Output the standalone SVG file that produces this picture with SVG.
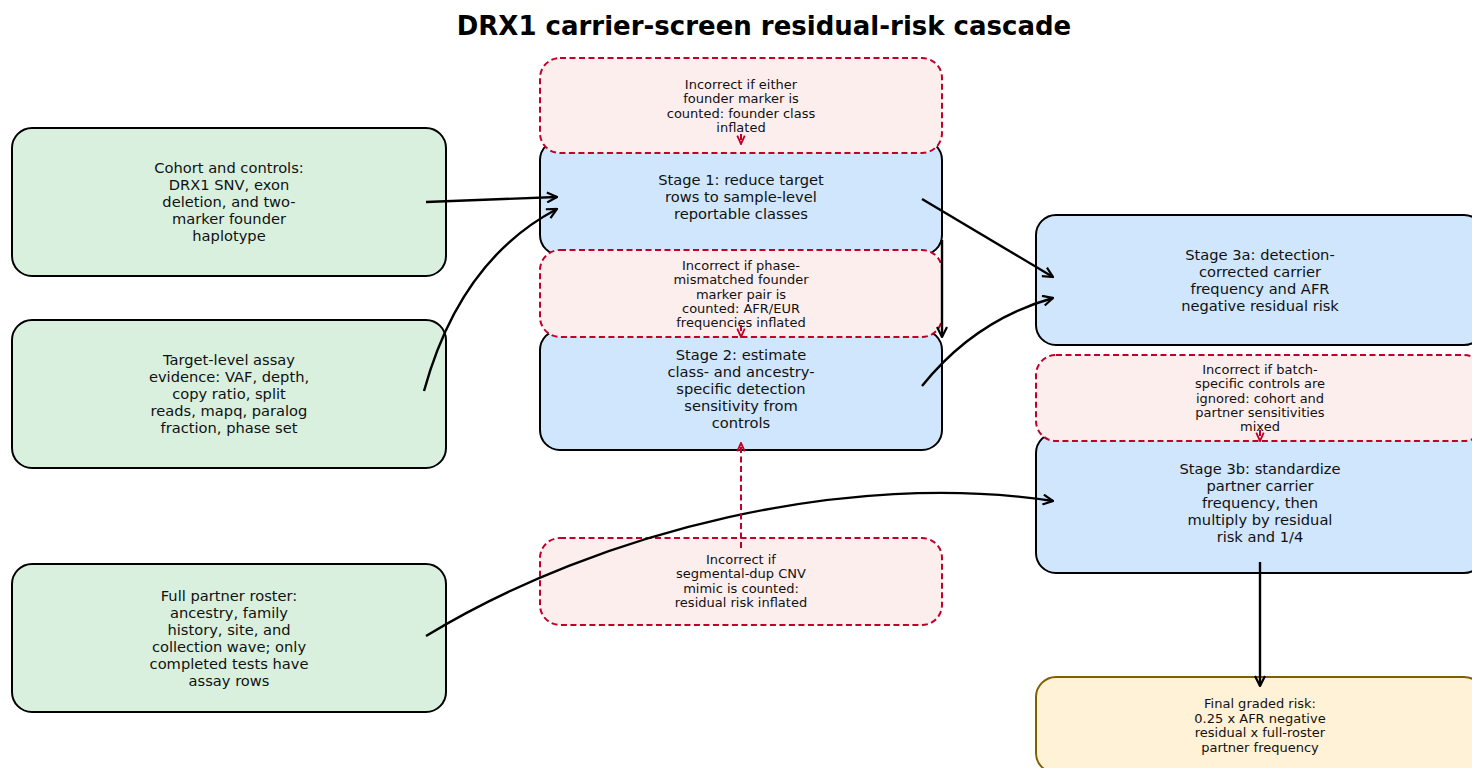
<svg xmlns="http://www.w3.org/2000/svg" width="1472" height="768" viewBox="0 0 1472 768">
<style>
text{font-family:"DejaVu Sans","Liberation Sans",sans-serif;fill:#111;text-anchor:middle}
.title{font-size:26px;font-weight:bold;fill:#000}
.t{font-size:14.67px}
.s{font-size:13px}
.in{fill:#d9f0df;stroke:#000;stroke-width:2}
.st{fill:#d0e6fc;stroke:#000;stroke-width:2}
.er{fill:#fdeeee;stroke:#c0002a;stroke-width:2;stroke-dasharray:6 3.5}
.fin{fill:#fff2d6;stroke:#7f5f00;stroke-width:2}
.c{fill:none;stroke:#000;stroke-width:2.4;marker-end:url(#ah)}
.cr{fill:none;stroke:#c0002a;stroke-width:2;stroke-dasharray:6 3.5;marker-end:url(#ahr)}
</style>
<defs>
<marker id="ah" viewBox="0 0 12 12" refX="11" refY="6" markerWidth="12" markerHeight="12" markerUnits="userSpaceOnUse" orient="auto">
<path d="M1,1 L11,6 L1,11" fill="none" stroke="#000" stroke-width="2.2"/>
</marker>
<marker id="ahr" viewBox="0 0 12 12" refX="11" refY="6" markerWidth="10" markerHeight="10" markerUnits="userSpaceOnUse" orient="auto">
<path d="M1,1.5 L11,6 L1,10.5" fill="none" stroke="#c0002a" stroke-width="2.2"/>
</marker>
</defs>
<rect width="1472" height="768" fill="#fff"/>
<text class="title" x="764" y="35">DRX1 carrier-screen residual-risk cascade</text>

<g id="cohort">
<rect class="in" x="12" y="128" width="434" height="148" rx="20"/>
<text class="t"><tspan x="229" y="173">Cohort and controls:</tspan><tspan x="229" y="190">DRX1 SNV, exon</tspan><tspan x="229" y="207">deletion, and two-</tspan><tspan x="229" y="224">marker founder</tspan><tspan x="229" y="241">haplotype</tspan></text>
</g>
<g id="assay">
<rect class="in" x="12" y="320" width="434" height="148" rx="20"/>
<text class="t"><tspan x="229" y="365">Target-level assay</tspan><tspan x="229" y="382">evidence: VAF, depth,</tspan><tspan x="229" y="399">copy ratio, split</tspan><tspan x="229" y="416">reads, mapq, paralog</tspan><tspan x="229" y="433">fraction, phase set</tspan></text>
</g>
<g id="roster">
<rect class="in" x="12" y="564" width="434" height="148" rx="20"/>
<text class="t"><tspan x="229" y="601">Full partner roster:</tspan><tspan x="229" y="618">ancestry, family</tspan><tspan x="229" y="635">history, site, and</tspan><tspan x="229" y="652">collection wave; only</tspan><tspan x="229" y="669">completed tests have</tspan><tspan x="229" y="686">assay rows</tspan></text>
</g>

<g id="stage1">
<rect class="st" x="540" y="140" width="402" height="115" rx="20"/>
<text class="t"><tspan x="741" y="185">Stage 1: reduce target</tspan><tspan x="741" y="202">rows to sample-level</tspan><tspan x="741" y="219">reportable classes</tspan></text>
</g>
<g id="stage2">
<rect class="st" x="540" y="330" width="402" height="120" rx="20"/>
<text class="t"><tspan x="741" y="360">Stage 2: estimate</tspan><tspan x="741" y="377">class- and ancestry-</tspan><tspan x="741" y="394">specific detection</tspan><tspan x="741" y="411">sensitivity from</tspan><tspan x="741" y="428">controls</tspan></text>
</g>
<g id="stage3a">
<rect class="st" x="1036" y="215" width="448" height="130" rx="20"/>
<text class="t"><tspan x="1260" y="260">Stage 3a: detection-</tspan><tspan x="1260" y="277">corrected carrier</tspan><tspan x="1260" y="294">frequency and AFR</tspan><tspan x="1260" y="311">negative residual risk</tspan></text>
</g>
<g id="stage3b">
<rect class="st" x="1036" y="433" width="448" height="140" rx="20"/>
<text class="t"><tspan x="1260" y="474">Stage 3b: standardize</tspan><tspan x="1260" y="491">partner carrier</tspan><tspan x="1260" y="508">frequency, then</tspan><tspan x="1260" y="525">multiply by residual</tspan><tspan x="1260" y="542">risk and 1/4</tspan></text>
</g>
<g id="final">
<rect class="fin" x="1036" y="677" width="448" height="96" rx="20"/>
<text class="s"><tspan x="1260" y="708">Final graded risk:</tspan><tspan x="1260" y="722.5">0.25 x AFR negative</tspan><tspan x="1260" y="737">residual x full-roster</tspan><tspan x="1260" y="751.5">partner frequency</tspan></text>
</g>

<g id="err-founder">
<rect class="er" x="540" y="58" width="402" height="95" rx="20"/>
<text class="s"><tspan x="741" y="89">Incorrect if either</tspan><tspan x="741" y="103.3">founder marker is</tspan><tspan x="741" y="117.6">counted: founder class</tspan><tspan x="741" y="131.9">inflated</tspan></text>
</g>
<g id="err-phase">
<rect class="er" x="540" y="250" width="402" height="87" rx="20"/>
<text class="s"><tspan x="741" y="270">Incorrect if phase-</tspan><tspan x="741" y="284.3">mismatched founder</tspan><tspan x="741" y="298.6">marker pair is</tspan><tspan x="741" y="312.9">counted: AFR/EUR</tspan><tspan x="741" y="327.2">frequencies inflated</tspan></text>
</g>
<g id="err-batch">
<rect class="er" x="1036" y="355" width="448" height="86" rx="20"/>
<text class="s"><tspan x="1260" y="374">Incorrect if batch-</tspan><tspan x="1260" y="388.3">specific controls are</tspan><tspan x="1260" y="402.6">ignored: cohort and</tspan><tspan x="1260" y="416.9">partner sensitivities</tspan><tspan x="1260" y="431.2">mixed</tspan></text>
</g>
<g id="err-segdup">
<rect class="er" x="540" y="538" width="402" height="87" rx="20"/>
<text class="s"><tspan x="741" y="564">Incorrect if</tspan><tspan x="741" y="578.3">segmental-dup CNV</tspan><tspan x="741" y="592.6">mimic is counted:</tspan><tspan x="741" y="606.9">residual risk inflated</tspan></text>
</g>

<g id="connectors">
<path class="c" d="M426,202 L557,197"/>
<path class="c" d="M424,391 Q460,260 557,209"/>
<path class="c" d="M922,199 L1053,277"/>
<path class="c" d="M942,240 L942,337"/>
<path class="c" d="M922,386 Q975,320 1053,298"/>
<path class="c" d="M426,636 C600,530 850,470 1053,501"/>
<path class="c" d="M1260,562 L1260,686"/>
<path class="cr" d="M741,134 L741,144"/>
<path class="cr" d="M741,325 L741,337"/>
<path class="cr" d="M1260,430 L1260,441"/>
<path class="cr" d="M741,548 L741,443"/>
</g>
</svg>
